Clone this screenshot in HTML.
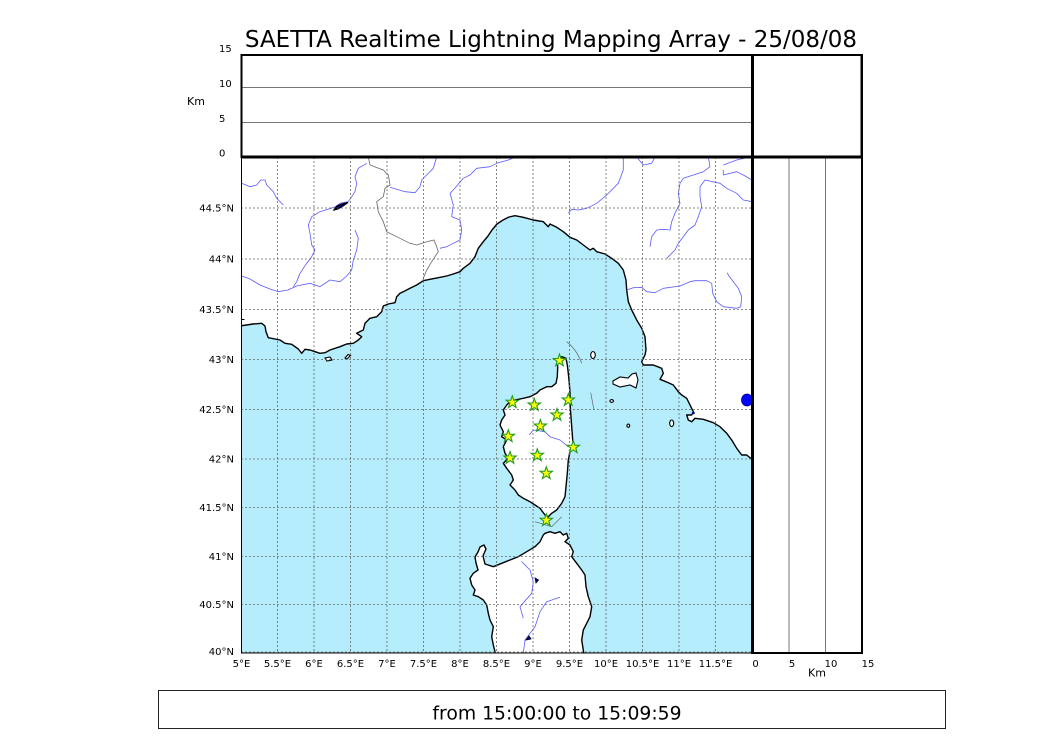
<!DOCTYPE html>
<html>
<head>
<meta charset="utf-8">
<style>
html,body{margin:0;padding:0;background:#fff;}
svg{display:block;}
text{font-family:"DejaVu Sans","Liberation Sans",sans-serif;fill:#000;}
</style>
</head>
<body>
<svg width="1050" height="750" viewBox="0 0 1050 750" xmlns="http://www.w3.org/2000/svg">
<defs>
<clipPath id="mc"><rect x="241.5" y="157" width="510.5" height="496"/></clipPath>
<path id="star" d="M0,-6.5 L1.53,-2.1 L6.18,-2.01 L2.47,0.8 L3.82,5.26 L0,2.6 L-3.82,5.26 L-2.47,0.8 L-6.18,-2.01 L-1.53,-2.1 Z"/>
</defs>
<rect width="1050" height="750" fill="#fff"/>

<text x="551" y="47" font-size="23" text-anchor="middle">SAETTA Realtime Lightning Mapping Array - 25/08/08</text>

<!-- top panel -->
<line x1="241" y1="87.5" x2="752" y2="87.5" stroke="#777" stroke-width="1"/>
<line x1="241" y1="122.5" x2="752" y2="122.5" stroke="#777" stroke-width="1"/>
<g font-size="10">
<text x="219" y="52">15</text>
<text x="219" y="87">10</text>
<text x="219" y="122">5</text>
<text x="219" y="156.5">0</text>
</g>
<text x="196" y="105" font-size="11" text-anchor="middle">Km</text>

<!-- map -->
<g clip-path="url(#mc)">
<rect x="241" y="157" width="512" height="497" fill="#b5edfd"/>
<!-- mainland -->
<path fill="#fff" stroke="#000" stroke-width="1.4" stroke-linejoin="round" d="M240,326 L253,324 L261.7,323.3 L265,326 L266,331.7 L268.3,337.7 L280,340 L285,343.3 L291.7,344.3 L298.3,349 L301.7,353.3 L305,349.3 L310,350 L315,351.7 L320,353.3 L325,352.7 L330,350 L340,346.7 L346.7,344 L353.3,343.3 L358.3,340 L361.7,336.7 L356.7,333.3 L363.3,330 L365,323.3 L370,318.3 L376.7,316.7 L381.7,311.7 L383.3,306 L388.3,304 L395,302.7 L396.7,296.7 L400,293.3 L403.3,291.7 L410,288.3 L416.7,285 L423.3,280.7 L430,279.3 L438.3,277.7 L446.7,276 L453.3,274 L460,271.7 L463.3,268.3 L470,263.3 L475,256.7 L478.3,248.3 L483.3,241.7 L488,236 L492,230 L497,224 L503,220 L509,217 L515,215.7 L523.3,217.3 L533.3,220 L543.3,221.7 L548.3,226.7 L550,224 L556.7,227.3 L563.3,231.7 L570,237.3 L576.7,240 L583.3,245 L590,250 L593.3,248.3 L596.7,251.7 L605,254 L611.7,258.3 L618.3,263.3 L623.3,270 L626,280 L626.7,290 L628.3,301.7 L631.7,310 L636.7,320 L641.7,328.3 L645,336.7 L646,350 L645,355 L641.7,361.7 L643.3,365 L653.3,365 L661.7,368.3 L663.3,373.3 L660,379.3 L668.3,382.7 L673.3,385 L678.3,391.7 L681.7,395 L686.7,398.3 L690,405 L693.3,411.7 L691.7,415 L686.7,415 L688.3,420 L691.7,421.7 L695,418.3 L703.3,419.3 L713.3,422.7 L720,426.7 L726.7,433.3 L731.7,440 L736.7,448.3 L741.7,455 L746.7,455 L750.7,458.3 L754,461 L754,155 L240,155 Z"/>
<line x1="241" y1="319.5" x2="244.5" y2="319.5" stroke="#000" stroke-width="1"/>
<!-- Corsica -->
<path fill="#fff" stroke="#000" stroke-width="1.4" stroke-linejoin="round" d="M557.3,360 L561.7,356.7 L566,358.3 L567.3,365 L568.3,373.3 L569.3,383.3 L570,393.3 L570,403.3 L570.7,413.3 L571.7,426.7 L572.7,440 L574,447.3 L570,451.7 L568.3,460 L567.3,473.3 L566,486.7 L565,496.7 L561.7,503.3 L556.7,510 L551.7,513.3 L548.3,516.7 L545,515 L540,508.3 L535,505 L530,501.7 L523.3,498.3 L518.3,495 L515,490 L510,485 L513.3,480 L511.7,475 L506.7,468.3 L503.3,463.3 L508.3,458.3 L505,453.3 L503.3,446.7 L506.7,440 L501.7,436.7 L503.3,431.7 L500,425 L501.7,420 L505,415 L503.3,410 L506.7,405 L510,401.7 L515,400 L523.3,398.3 L530,396.7 L536.7,393.3 L540,390 L546.7,386.7 L551.7,386.7 L556,383.3 L557.3,376.7 L557.7,366.7 Z"/>
<!-- Sardinia -->
<path fill="#fff" stroke="#000" stroke-width="1.4" stroke-linejoin="round" d="M478,570 L476,563 L475,557 L478,552 L480,547 L484,545 L486,549 L483,556 L485,564 L493.3,566.7 L501.7,563.3 L510,560 L518.3,556.7 L526.7,551.7 L535,546.7 L540,541.7 L543.3,535 L545,533.3 L550,531.7 L555,533.3 L560,531.7 L563.3,535 L566.7,533.3 L568.3,538.3 L565,541.7 L570,545 L573.3,551.7 L571.7,556.7 L576.7,563.3 L581.7,570 L585,575 L586,586.7 L588.3,596.7 L591.7,606.7 L590,616.7 L586.7,623.3 L583.3,630 L581.7,640 L583.3,650 L584,656 L495,656 L495,651.7 L493.3,645 L491.7,636.7 L493.3,626.7 L490,620 L488.3,613.3 L486.7,605 L483.3,600 L478.3,596.7 L473.3,595 L475,590 L471.7,585 L470,578.3 L473.3,573.3 Z"/>
<!-- islands -->
<g fill="#fff" stroke="#000" stroke-width="1.1">
<path d="M613,381 L620,377 L628,378 L632,374 L636,373 L638,380 L636,388 L630,385 L620,387 L613,384 Z"/>
<ellipse cx="593" cy="355" rx="2.3" ry="3.5"/>
<ellipse cx="611.7" cy="401" rx="1.8" ry="1.4"/>
<ellipse cx="628.3" cy="425.7" rx="1.4" ry="1.6"/>
<ellipse cx="671.7" cy="423.3" rx="2" ry="3.3"/>
<path d="M325,358 L330,357 L332,360 L327,361 Z"/>
<path d="M345,358 L348,354.5 L350.5,355.5 L347,359 Z"/>
</g>
<!-- rivers -->
<g fill="none" stroke="#5a5aff" stroke-width="0.8" stroke-linejoin="round">
<polyline points="241.7,183.3 250,186.7 256.7,185 260.7,180 265,180 266.7,185 273.3,191.7 276.7,198.3 283.3,205"/>
<polyline points="366.7,163.3 358.3,168.3 355,176.7 356.7,183.3 355,191.7 348.3,201.7 340,203.3 335,207 320,211.7 311.7,216.7 308.3,225 310,233.3 311.7,245 315,250 311.7,256.7 306.7,263.3 300,273.3 296.7,281.7 293.3,286.7"/>
<polyline points="241.7,276 250,279 260,285 270,289 278.3,291.7 288,290 296.7,286 310,283.3 320,286.7 330,280 340,281.7 346.7,276 351.7,270 353.3,260 356.7,250 358.3,238.3 355,230"/>
<polyline points="436.7,157 433.3,168.3 426.7,175 421.7,180 420,186.7 415,192.7 405,191.7 396.7,189.3 390,187.3"/>
<polyline points="513.3,158 508.3,160 496.7,163.3 490,166.7 476.7,168.3 470,175 463.3,178.3 453.3,190 450,193.3 453.3,205 451.7,216.7 460,220 461.7,230 460,240 446.7,246.7 440,248.3"/>
<polyline points="623.3,157 623.3,170 618.3,183.3 606.7,195 596.7,203.3 586.7,208.3 578.3,210 571.7,209.3 568.3,213.3"/>
<polyline points="636.7,157 643.3,165 651.7,163.3 655,157"/>
<polyline points="708.3,157 710,166.7 703.3,171.7 683.3,178.3 680,183.3 678.3,193.3 680,203.3 675,213.3 671.7,221.7 670,230 663.3,229.3 656.7,230 651.7,236.7 650,246.7"/>
<polyline points="705,180 700,186.7 700,196.7 701.7,206.7 698.3,216.7 695,225 688.3,230 683.3,236.7 678.3,243.3 675,250 666.7,258.3"/>
<polyline points="705,180 720,183.3 726.7,188.3 736.7,193.3 743.3,200 752,201.7"/>
<polyline points="723.3,165 736.7,160 750,157"/>
<polyline points="723.3,170 723.3,175 736.7,171.7 743.3,175 752,180"/>
<polyline points="626.7,290 633.3,287.7 641.7,287.3 646.7,291.7 655,292.7 663.3,288.3 680,286 690,281.7 695,280.7 706.7,280.7 711.7,283.3 712.7,293.3 716.7,301.7 723.3,306.7 736.7,308.3 740.7,306.7 741.7,296.7 738.3,288.3 733.3,281.7 728.3,275 727.3,272.7"/>
<polyline points="529.3,435 533.3,430 545,431.7 550,436.7 560,440 568.3,446.7"/>
<polyline points="521.7,561.7 530,570 533.3,581.7 531.7,593.3 520,606.7 523.3,618.3"/>
<polyline points="560,597.3 546.7,601.7 540,611.7 535,626.7 525,640 523.3,653"/>
</g>
<!-- borders -->
<polyline fill="none" stroke="#666" stroke-width="0.8" points="368.3,157 370,165 383.3,170 388.3,175 390,185 385,188.3 383.3,196.7 376.7,201.7 378.3,211.7 383.3,221.7 386.7,231.7 396.7,236.7 410,243.3 416.7,245 426.7,241.7 434,240 436.7,246.7 438.3,251.7 431.7,261.7 426.7,270 423.3,278.3 423,281"/>
<!-- lakes -->
<path d="M334,210 L337,206 L342,204 L348,202.5 L343,206 L338,209 Z" fill="#000066" stroke="#000" stroke-width="1.2"/>
<path d="M535,578 L538.5,580 L536,583 Z" fill="#0000aa" stroke="#000" stroke-width="0.8"/>
<path d="M526,640 L529,636 L531,639 Z" fill="#0000aa" stroke="#000" stroke-width="0.8"/>
<circle cx="693.5" cy="413" r="1.3" fill="#0000aa"/>
<ellipse cx="747" cy="400" rx="5.5" ry="6" fill="#0000ff" stroke="#000088" stroke-width="0.8"/>
<!-- grid -->
<g stroke="#666" stroke-width="0.8" stroke-dasharray="2,2" fill="none">
<line x1="277.5" y1="157" x2="277.5" y2="653"/>
<line x1="314" y1="157" x2="314" y2="653"/>
<line x1="350.5" y1="157" x2="350.5" y2="653"/>
<line x1="387" y1="157" x2="387" y2="653"/>
<line x1="423.5" y1="157" x2="423.5" y2="653"/>
<line x1="460" y1="157" x2="460" y2="653"/>
<line x1="496.5" y1="157" x2="496.5" y2="653"/>
<line x1="533" y1="157" x2="533" y2="653"/>
<line x1="569.5" y1="157" x2="569.5" y2="653"/>
<line x1="606" y1="157" x2="606" y2="653"/>
<line x1="642.5" y1="157" x2="642.5" y2="653"/>
<line x1="679" y1="157" x2="679" y2="653"/>
<line x1="715.5" y1="157" x2="715.5" y2="653"/>
<line x1="241" y1="208" x2="752" y2="208"/>
<line x1="241" y1="259" x2="752" y2="259"/>
<line x1="241" y1="309.5" x2="752" y2="309.5"/>
<line x1="241" y1="359.5" x2="752" y2="359.5"/>
<line x1="241" y1="409.5" x2="752" y2="409.5"/>
<line x1="241" y1="459" x2="752" y2="459"/>
<line x1="241" y1="507.5" x2="752" y2="507.5"/>
<line x1="241" y1="556.5" x2="752" y2="556.5"/>
<line x1="241" y1="604.5" x2="752" y2="604.5"/>
<line x1="241" y1="652" x2="752" y2="652"/>
</g>
<!-- faint lines -->
<g fill="none" stroke="#666" stroke-width="0.7">
<path d="M566.7,341.7 Q577,350 581.7,363.3"/>
<path d="M590.7,392.7 L594,410"/>
<path d="M535,521.7 L551.7,526.7 L561.7,516.7"/>
</g>
<!-- stars -->
<g fill="#ffff00" stroke="#1f9a1f" stroke-width="1.1">
<use href="#star" x="559.5" y="360.5"/>
<use href="#star" x="512.3" y="402.3"/>
<use href="#star" x="534.3" y="405"/>
<use href="#star" x="568.3" y="400"/>
<use href="#star" x="557" y="415"/>
<use href="#star" x="540.3" y="426"/>
<use href="#star" x="508.3" y="436.3"/>
<use href="#star" x="573.3" y="447.3"/>
<use href="#star" x="510" y="458"/>
<use href="#star" x="537.3" y="455.3"/>
<use href="#star" x="546.3" y="473.3"/>
<use href="#star" x="546.3" y="520.3"/>
</g>
</g>

<!-- right panel -->
<line x1="789" y1="157" x2="789" y2="653" stroke="#777" stroke-width="1"/>
<line x1="825.5" y1="157" x2="825.5" y2="653" stroke="#777" stroke-width="1"/>

<!-- frames -->
<line x1="241.5" y1="157" x2="241.5" y2="653.5" stroke="#000" stroke-width="1"/>
<line x1="241" y1="653" x2="752" y2="653" stroke="#000" stroke-width="1"/>
<line x1="752" y1="653" x2="863" y2="653" stroke="#000" stroke-width="2"/>
<rect x="241.5" y="55" width="620" height="102" fill="none" stroke="#000" stroke-width="2"/>
<line x1="862" y1="54" x2="862" y2="654" stroke="#000" stroke-width="2"/>
<line x1="241" y1="157" x2="863" y2="157" stroke="#000" stroke-width="3"/>
<line x1="752.5" y1="54" x2="752.5" y2="654" stroke="#000" stroke-width="3"/>

<!-- lat labels -->
<g font-size="10" text-anchor="end">
<text x="234" y="211.5">44.5°N</text>
<text x="234" y="262.5">44°N</text>
<text x="234" y="313">43.5°N</text>
<text x="234" y="363">43°N</text>
<text x="234" y="413">42.5°N</text>
<text x="234" y="462.5">42°N</text>
<text x="234" y="511">41.5°N</text>
<text x="234" y="560">41°N</text>
<text x="234" y="608">40.5°N</text>
<text x="234" y="655">40°N</text>
</g>
<!-- lon labels -->
<g font-size="10" text-anchor="middle">
<text x="241.5" y="667">5°E</text>
<text x="277.5" y="667">5.5°E</text>
<text x="314" y="667">6°E</text>
<text x="350.5" y="667">6.5°E</text>
<text x="387" y="667">7°E</text>
<text x="423.5" y="667">7.5°E</text>
<text x="460" y="667">8°E</text>
<text x="496.5" y="667">8.5°E</text>
<text x="533" y="667">9°E</text>
<text x="569.5" y="667">9.5°E</text>
<text x="606" y="667">10°E</text>
<text x="642.5" y="667">10.5°E</text>
<text x="679" y="667">11°E</text>
<text x="715.5" y="667">11.5°E</text>
</g>
<g font-size="10" text-anchor="middle">
<text x="755.5" y="667">0</text>
<text x="792" y="667">5</text>
<text x="831" y="667">10</text>
<text x="868" y="667">15</text>
</g>
<text x="817" y="676.5" font-size="11" text-anchor="middle">Km</text>

<!-- bottom box -->
<rect x="158.5" y="690.5" width="787" height="38" fill="#fff" stroke="#222" stroke-width="1"/>
<text x="557" y="719.5" font-size="18.8" text-anchor="middle">from 15:00:00 to 15:09:59</text>
</svg>
</body>
</html>
